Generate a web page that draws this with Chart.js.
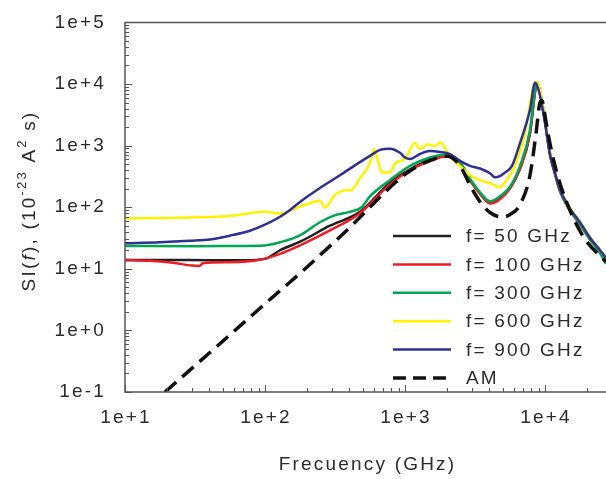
<!DOCTYPE html>
<html>
<head>
<meta charset="utf-8">
<script src="https://cdn.jsdelivr.net/npm/chart.js@4.4.1/dist/chart.umd.min.js"></script>
<style>
  html, body { margin: 0; padding: 0; background: #fff; }
</style>
</head>
<body>
<canvas id="chart" width="606" height="479"></canvas>
<script>
// values (GHz, 1e-23 A^2 s)
const freq50 = [10, 20, 40, 70, 100, 128, 178, 291, 477, 781, 1086, 1509, 1995, 2471, 2912, 3433, 4047, 4771, 5623, 6629, 7813, 8483, 8770, 9210, 10000, 10860, 11790, 12800, 15090, 17780, 20960, 24710, 27280];
const vals50 = [13.9, 13.9, 13.8, 13.8, 14.5, 20, 27.5, 50, 84, 250, 410, 590, 675, 510, 275, 170, 117, 148, 205, 425, 1590, 7300, 10700, 7300, 2450, 730, 355, 190, 91, 55, 32, 20, 14.3];

const freq100 = [10, 15, 22, 30, 34, 36, 56, 92, 128, 178, 291, 477, 781, 1086, 1509, 1995, 2471, 2912, 3433, 4047, 4771, 5623, 6629, 7813, 8483, 8770, 9210, 10000, 10860, 11790, 12800, 15090, 17780, 20960, 24710, 27280];
const vals100 = [13.9, 13.5, 12.5, 11.3, 11.1, 12.3, 12.8, 14.0, 17.5, 24, 42, 80, 235, 400, 560, 670, 500, 270, 165, 115, 135, 200, 420, 1590, 7300, 10500, 7000, 2400, 700, 340, 180, 88, 52, 30, 19, 14];

const freq300 = [10, 30, 60, 100, 128, 178, 247, 310, 405, 490, 562, 781, 1086, 1509, 1995, 2471, 2912, 3433, 4047, 4771, 5623, 6629, 7813, 8483, 8770, 9210, 10000, 10860, 11790, 12800, 15090, 17780, 20960, 24710, 27280];
const vals300 = [23.5, 23.3, 23.5, 24, 27, 35, 57, 73, 84, 100, 150, 275, 470, 640, 720, 540, 290, 175, 125, 150, 215, 470, 1800, 8000, 10800, 7800, 2600, 760, 360, 185, 90, 53, 30, 18, 12];

const freq600 = [10, 20, 34, 56, 78, 100, 128, 178, 210, 247, 268, 316, 343, 385, 405, 477, 562, 601, 642, 685, 781, 848, 1000, 1179, 1280, 1459, 1638, 1778, 1995, 2096, 2471, 2912, 3433, 4047, 4771, 5440, 6105, 7197, 8210, 8770, 9210, 10000, 10860, 11790, 12800, 15090, 17780, 20960, 24710, 27280];
const vals600 = [66, 67, 69, 72, 80, 84, 79, 102, 117, 127, 99, 158, 178, 190, 185, 295, 525, 880, 565, 365, 365, 510, 615, 1100, 880, 1050, 980, 1130, 810, 670, 470, 330, 275, 245, 212, 295, 470, 1590, 8700, 10800, 8000, 2700, 800, 380, 200, 97, 58, 33, 20, 15];

const freq900 = [10, 17.8, 29, 40.5, 56, 78, 100, 128, 151, 178, 247, 343, 477, 562, 663, 781, 921, 1000, 1086, 1280, 1509, 1778, 2096, 2471, 2912, 3433, 4047, 4394, 4771, 5179, 5810, 6629, 7813, 8483, 8770, 9210, 10000, 10860, 11790, 12800, 15090, 17780, 20960, 24710, 27280];
const vals900 = [26, 27, 28.5, 30, 34.5, 41.5, 52, 70, 90, 122, 205, 330, 540, 680, 850, 890, 765, 640, 605, 730, 815, 790, 730, 565, 470, 425, 355, 305, 320, 365, 470, 1100, 3800, 10500, 9500, 6500, 2400, 720, 360, 195, 95, 57, 32, 20, 15];

const freqAM = [19.3, 50, 100, 200, 300, 400, 562, 700, 850, 1000, 1200, 1500, 2000, 2471, 2912, 3433, 4047, 4932, 5623, 6629, 7813, 8630, 9210, 9520, 9900, 10500, 11790, 13900, 18670, 27280];
const valsAM = [0.1, 0.67, 2.7, 10.7, 25, 46, 100, 165, 250, 340, 450, 570, 670, 470, 229, 123, 82, 69, 76, 110, 330, 1580, 5000, 5400, 3500, 1590, 470, 141, 34, 13];

const xTicks = [10, 100, 1000, 10000];
const yTicks = [0.1, 1, 10, 100, 1000, 10000, 100000];

const FONT = "'Liberation Sans', Arial, sans-serif";
const SPACING = '2.2px';
const TEXT = '#2b2b2b';
const AXIS = '#555';

function pts(fs, vs) {
    return fs.map((f, i) => ({ x: f, y: vs[i] }));
}

function expLabel(v) {
    const e = Math.round(Math.log10(v));
    return '1e' + (e < 0 ? '-' : '+') + Math.abs(e);
}

const series = [
    { label: 'f= 50 GHz', data: pts(freq50, vals50), color: '#231f20', width: 2.5, dash: [], order: 5 },
    { label: 'f= 100 GHz', data: pts(freq100, vals100), color: '#ed1c24', width: 2.5, dash: [], order: 4 },
    { label: 'f= 300 GHz', data: pts(freq300, vals300), color: '#00a651', width: 2.5, dash: [], order: 3 },
    { label: 'f= 600 GHz', data: pts(freq600, vals600), color: '#fff200', width: 2.5, dash: [], order: 2 },
    { label: 'f= 900 GHz', data: pts(freq900, vals900), color: '#2e3192', width: 2.5, dash: [], order: 1 },
    { label: 'AM', data: pts(freqAM, valsAM), color: '#111', width: 3.5, dash: [15, 8], order: 0 }
];

// frame, inward ticks, x labels, axis titles and legend
const decorPlugin = {
    id: 'decor',
    beforeDraw(chart) {
        chart.ctx.letterSpacing = SPACING;
    },
    afterDraw(chart) {
        const ctx = chart.ctx;
        const a = chart.chartArea;
        const xs = chart.scales.x, ys = chart.scales.y;
        ctx.save();
        ctx.letterSpacing = SPACING;

        // frame
        ctx.strokeStyle = AXIS;
        ctx.lineWidth = 1.5;
        ctx.beginPath();
        ctx.moveTo(a.right, a.top);
        ctx.lineTo(a.left, a.top);
        ctx.lineTo(a.left, a.bottom);
        ctx.lineTo(a.right, a.bottom);
        ctx.stroke();

        // tick marks pointing inward
        ctx.lineWidth = 1;
        ctx.beginPath();
        for (let d = 1; d <= 4; d++) {
            for (let m = 1; m <= 9; m++) {
                const v = m * Math.pow(10, d);
                if (v > xs.max) break;
                const px = Math.round(xs.getPixelForValue(v)) + 0.5;
                const len = m === 1 ? 7 : 4;
                ctx.moveTo(px, a.bottom);
                ctx.lineTo(px, a.bottom - len);
            }
        }
        for (let d = -1; d <= 4; d++) {
            for (let m = 1; m <= 9; m++) {
                const v = m * Math.pow(10, d);
                const py = Math.round(ys.getPixelForValue(v)) + 0.5;
                const len = m === 1 ? 7 : 4;
                ctx.moveTo(a.left, py);
                ctx.lineTo(a.left + len, py);
            }
        }
        const topPy = Math.round(ys.getPixelForValue(100000)) + 0.5;
        ctx.moveTo(a.left, topPy);
        ctx.lineTo(a.left + 7, topPy);
        ctx.stroke();

        // x tick labels
        ctx.fillStyle = TEXT;
        ctx.font = '19px ' + FONT;
        ctx.textAlign = 'center';
        ctx.textBaseline = 'middle';
        xTicks.forEach(v => {
            ctx.fillText(expLabel(v), xs.getPixelForValue(v) + 1, 418);
        });

        // x title
        ctx.fillText('Frecuency (GHz)', (a.left + a.right) / 2 + 2, 465);

        // y title with super scripts
        const parts = [
            { t: 'SI(', f: '19px ' + FONT, dy: 0 },
            { t: 'f', f: 'italic 19px ' + FONT, dy: 0 },
            { t: '), (10', f: '19px ' + FONT, dy: 0 },
            { t: '-23', f: '13px ' + FONT, dy: -8 },
            { t: ' A', f: '19px ' + FONT, dy: 0 },
            { t: '2', f: '13px ' + FONT, dy: -8 },
            { t: ' s)', f: '19px ' + FONT, dy: 0 }
        ];
        let total = 0;
        parts.forEach(p => { ctx.font = p.f; p.w = ctx.measureText(p.t).width; total += p.w; });
        ctx.translate(30, 201);
        ctx.rotate(-Math.PI / 2);
        ctx.textAlign = 'left';
        let cx = -total / 2;
        parts.forEach(p => {
            ctx.font = p.f;
            ctx.fillText(p.t, cx, p.dy);
            cx += p.w;
        });
        ctx.setTransform(1, 0, 0, 1, 0, 0);

        // legend
        ctx.font = '19px ' + FONT;
        ctx.textAlign = 'left';
        ctx.textBaseline = 'middle';
        chart.data.datasets.forEach((ds, i) => {
            const y = 236 + i * 28.4;
            ctx.strokeStyle = ds.borderColor;
            ctx.lineWidth = ds.borderWidth;
            ctx.setLineDash(ds.borderDash.length ? [13, 7] : []);
            ctx.beginPath();
            ctx.moveTo(393, y);
            ctx.lineTo(451, y);
            ctx.stroke();
            ctx.setLineDash([]);
            ctx.fillStyle = TEXT;
            ctx.fillText(ds.label, 466, y + 1);
        });
        ctx.restore();
    }
};

new Chart(document.getElementById('chart'), {
    type: 'line',
    data: {
        datasets: series.map(s => ({
            label: s.label,
            data: s.data,
            borderColor: s.color,
            backgroundColor: s.color,
            borderWidth: s.width,
            borderDash: s.dash,
            order: s.order,
            pointRadius: 0,
            fill: false,
            cubicInterpolationMode: 'monotone'
        }))
    },
    options: {
        responsive: false,
        animation: false,
        events: [],
        layout: { padding: { top: 13, right: 0, left: 0, bottom: 0 } },
        scales: {
            x: {
                type: 'logarithmic',
                min: 10,
                max: 27280,
                afterFit: s => { s.height = 87; },
                afterBuildTicks: s => { s.ticks = xTicks.map(v => ({ value: v })); },
                grid: { display: false },
                border: { display: false },
                ticks: { display: false }
            },
            y: {
                type: 'logarithmic',
                min: 0.1,
                max: 100000,
                afterFit: s => { s.width = 125; },
                afterBuildTicks: s => { s.ticks = yTicks.map(v => ({ value: v })); },
                grid: { display: false },
                border: { display: false },
                ticks: {
                    autoSkip: false,
                    padding: 11,
                    color: TEXT,
                    font: { family: FONT, size: 19 },
                    callback: v => expLabel(v)
                }
            }
        },
        plugins: {
            legend: { display: false },
            tooltip: { enabled: false }
        }
    },
    plugins: [decorPlugin]
});
</script>
</body>
</html>
